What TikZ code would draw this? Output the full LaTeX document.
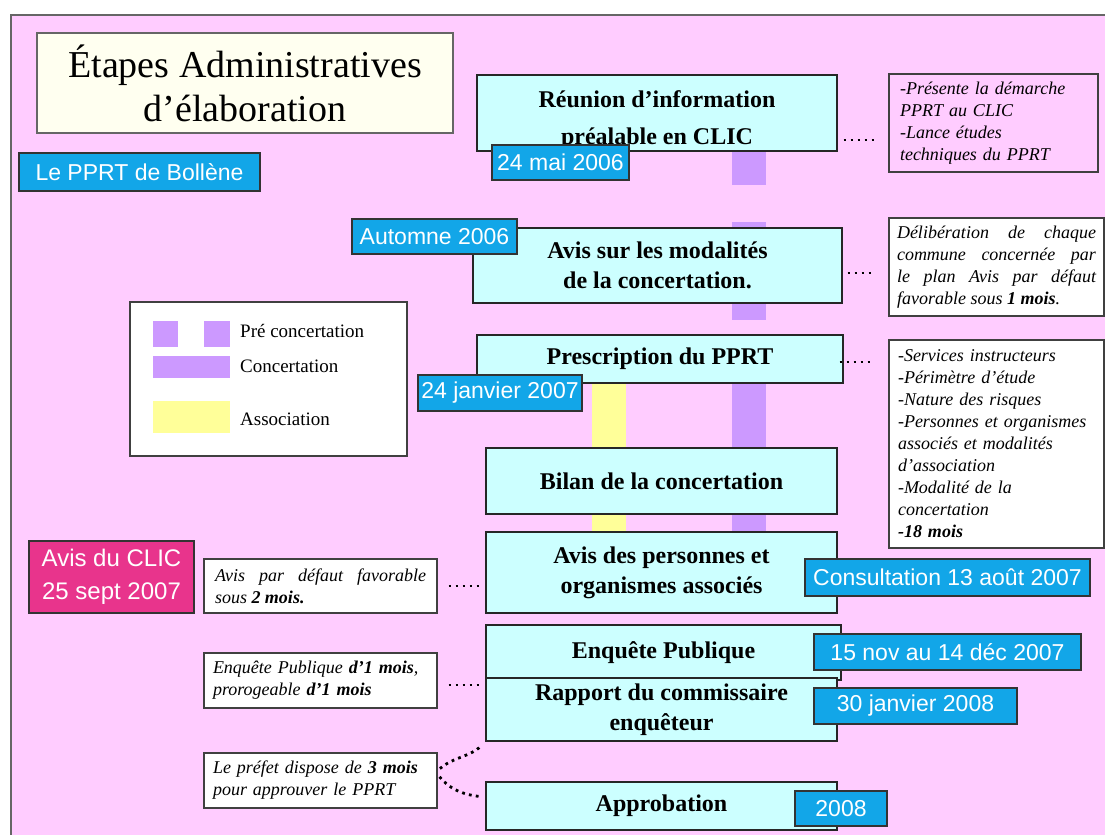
\documentclass[tikz,border=0pt]{standalone}
\usepackage{fontspec}
\setmainfont{Liberation Serif}
\newfontfamily\datefont{Liberation Sans}
\usepackage{tikz}
\usetikzlibrary{positioning}
\usepackage{xcolor}

\definecolor{fondrose}{RGB}{255,204,255}
\definecolor{etapecyan}{RGB}{204,255,255}
\definecolor{datebleu}{RGB}{18,166,232}
\definecolor{concviolet}{RGB}{204,153,255}
\definecolor{assocjaune}{RGB}{255,255,153}
\definecolor{clicrose}{RGB}{232,52,140}
\definecolor{titreivoire}{RGB}{255,255,240}

\begin{document}
\begin{tikzpicture}[x=1bp, y=-1bp,
    etape/.style={draw=black!85, line width=1.2bp, fill=etapecyan, inner sep=0pt, align=center, font=\fontsize{24bp}{30bp}\selectfont\bfseries},
    datebox/.style={draw=black!80, line width=1.2bp, fill=datebleu, text=white, inner sep=0pt, font=\datefont\fontsize{23bp}{28bp}\selectfont},
    remarque/.style={draw=black!75, line width=1.2bp, fill=white, inner sep=0pt, font=\fontsize{18bp}{22bp}\selectfont\itshape},
    legtexte/.style={anchor=west, inner sep=0pt, font=\fontsize{19bp}{22bp}\selectfont},
    liaison/.style={line width=2.8bp, dash pattern=on 2.8bp off 4.2bp}]

    \useasboundingbox (0,0) rectangle (1105,835);
    \clip (0,0) rectangle (1105,835);
    \fill[white] (0,0) rectangle (1105,835);
    \draw[black!60, line width=1.5bp, fill=fondrose] (11,15) rectangle (1130,860);

    % barres de phases
    \fill[concviolet] (732,140) rectangle (766,185);
    \fill[concviolet] (732,222) rectangle (766,320);
    \fill[concviolet] (732,340) rectangle (766,540);
    \fill[assocjaune] (592,375) rectangle (626,540);

    \node[draw=black!60, line width=1.2bp, fill=titreivoire, minimum width=416bp, minimum height=100bp, align=center, font=\fontsize{38bp}{44bp}\selectfont] (titre) at (245,83) {Étapes Administratives\\d’élaboration};
    \node[datebox, minimum width=241bp, minimum height=38bp] (bollene) at (139.5,172) {Le PPRT de Bollène};

    % etapes
    \node[etape, minimum width=360bp, minimum height=76bp] (reunion) at (657,113) {\rule{0pt}{31bp}Réunion d’information\\[7bp]préalable en CLIC};
    \node[etape, minimum width=369bp, minimum height=75bp] (modalites) at (657.5,265.5) {Avis sur les modalités\\de la concertation.};
    \node[etape, minimum width=366bp, minimum height=48bp] (prescription) at (660,359) {Prescription du PPRT};
    \node[etape, minimum width=351bp, minimum height=66bp] (bilan) at (661.5,481) {Bilan de la concertation};
    \node[etape, minimum width=351bp, minimum height=81bp] (avispers) at (661.5,572.5) {Avis des personnes et\\organismes associés};
    \node[etape, minimum width=355bp, minimum height=55bp] (enquete) at (663.5,652.5) {Enquête Publique};
    \node[etape, minimum width=351bp, minimum height=63bp] (rapport) at (661.5,709.5) {Rapport du commissaire\\enquêteur};
    \node[etape, minimum width=351bp, minimum height=48bp] (approb) at (661.5,806) {Approbation};

    % dates
    \node[datebox, minimum width=137bp, minimum height=35bp] (d-reunion) at (560.5,162.5) {24 mai 2006};
    \node[datebox, minimum width=165bp, minimum height=35bp] (d-modalites) at (434.5,236.5) {Automne 2006};
    \node[datebox, minimum width=164bp, minimum height=36bp] (d-prescription) at (500,393) {24 janvier 2007};
    \node[datebox, minimum width=285bp, minimum height=37bp] (d-avispers) at (947.5,577.5) {Consultation 13 août 2007};
    \node[datebox, minimum width=267bp, minimum height=36bp] (d-enquete) at (947.5,652) {15 nov au 14 déc 2007};
    \node[datebox, minimum width=203bp, minimum height=36bp] (d-rapport) at (915.5,706) {30 janvier 2008};
    \node[datebox, minimum width=92bp, minimum height=35bp] (d-approb) at (841,808.5) {2008};
    \node[datebox, fill=clicrose, align=center, minimum width=165bp, minimum height=72bp, font=\datefont\fontsize{24bp}{33bp}\selectfont] (clic) at (111.5,577) {Avis du CLIC\\25 sept 2007};

    % remarques
    \node[remarque, fill=none, minimum width=209bp, minimum height=98bp, text width=187bp, align=left] (note1) at (993.5,123) {-Présente la démarche\\PPRT au CLIC\\-Lance études\\techniques du PPRT};
    \node[remarque, minimum width=215bp, minimum height=98bp, text width=199bp, align=justify] (note2) at (996.5,267) {Délibération de chaque\linebreak commune concernée par\linebreak le plan Avis par défaut\linebreak favorable sous \textbf{1 mois}.};
    \node[remarque, minimum width=215bp, minimum height=208bp, text width=197bp, align=left] (note3) at (996.5,444) {-Services instructeurs\\-Périmètre d’étude\\-Nature des risques\\-Personnes et organismes\\associés et modalités\\d’association\\-Modalité de la\\concertation\\\textbf{-18 mois}};
    \node[remarque, minimum width=233bp, minimum height=54bp, text width=211bp, align=justify] (noteavis) at (320.5,586) {Avis par défaut favorable\linebreak sous \textbf{2 mois.}};
    \node[remarque, minimum width=233bp, minimum height=55bp, text width=215bp, align=left] (noteenq) at (320.5,680.5) {Enquête Publique \textbf{d’1 mois},\\prorogeable \textbf{d’1 mois}};
    \node[remarque, minimum width=233bp, minimum height=55bp, text width=215bp, align=left] (noteprefet) at (320.5,780.5) {Le préfet dispose de \textbf{3 mois}\\pour approuver le PPRT};

    % legende
    \node[draw=black!75, line width=1.2bp, fill=white, minimum width=277bp, minimum height=154bp] (legende) at (268.5,379) {};
    \fill[concviolet] (153,321) rectangle (178,347);
    \fill[concviolet] (204,321) rectangle (230,347);
    \fill[concviolet] (153,356) rectangle (230,378);
    \fill[assocjaune] (153,401) rectangle (230,433);
    \node[legtexte] (lg-pre) at (240,331) {Pré concertation};
    \node[legtexte] (lg-conc) at (240,366) {Concertation};
    \node[legtexte] (lg-assoc) at (240,419) {Association};

    % liaisons
    \draw[liaison, shorten <=6bp, shorten >=14bp] ([yshift=-27bp]reunion.east) -- ([yshift=-27bp]reunion.east -| note1.west);
    \draw[liaison, shorten <=5bp, shorten >=14bp] ([yshift=-7.5bp]modalites.east) -- ([yshift=-7.5bp]modalites.east -| note2.west);
    \draw[liaison, shorten <=-4bp, shorten >=18bp] ([yshift=-3bp]prescription.east) -- ([yshift=-3bp]prescription.east -| note3.west);
    \draw[liaison, shorten <=11bp, shorten >=6bp] (noteavis.east) -- (noteavis.east -| avispers.west);
    \draw[liaison, shorten <=11bp, shorten >=6bp] ([yshift=-4.5bp]noteenq.east) -- ([yshift=-4.5bp]noteenq.east -| rapport.west);
    \draw[liaison, shorten <=3bp, shorten >=6bp] ([yshift=10bp]noteprefet.east) to[out=40, in=-135] (rapport.south west);
    \draw[liaison, shorten <=3bp, shorten >=3bp] ([yshift=6bp]noteprefet.east) to[out=-50, in=175] ([yshift=9bp]approb.west);

\end{tikzpicture}
\end{document}
